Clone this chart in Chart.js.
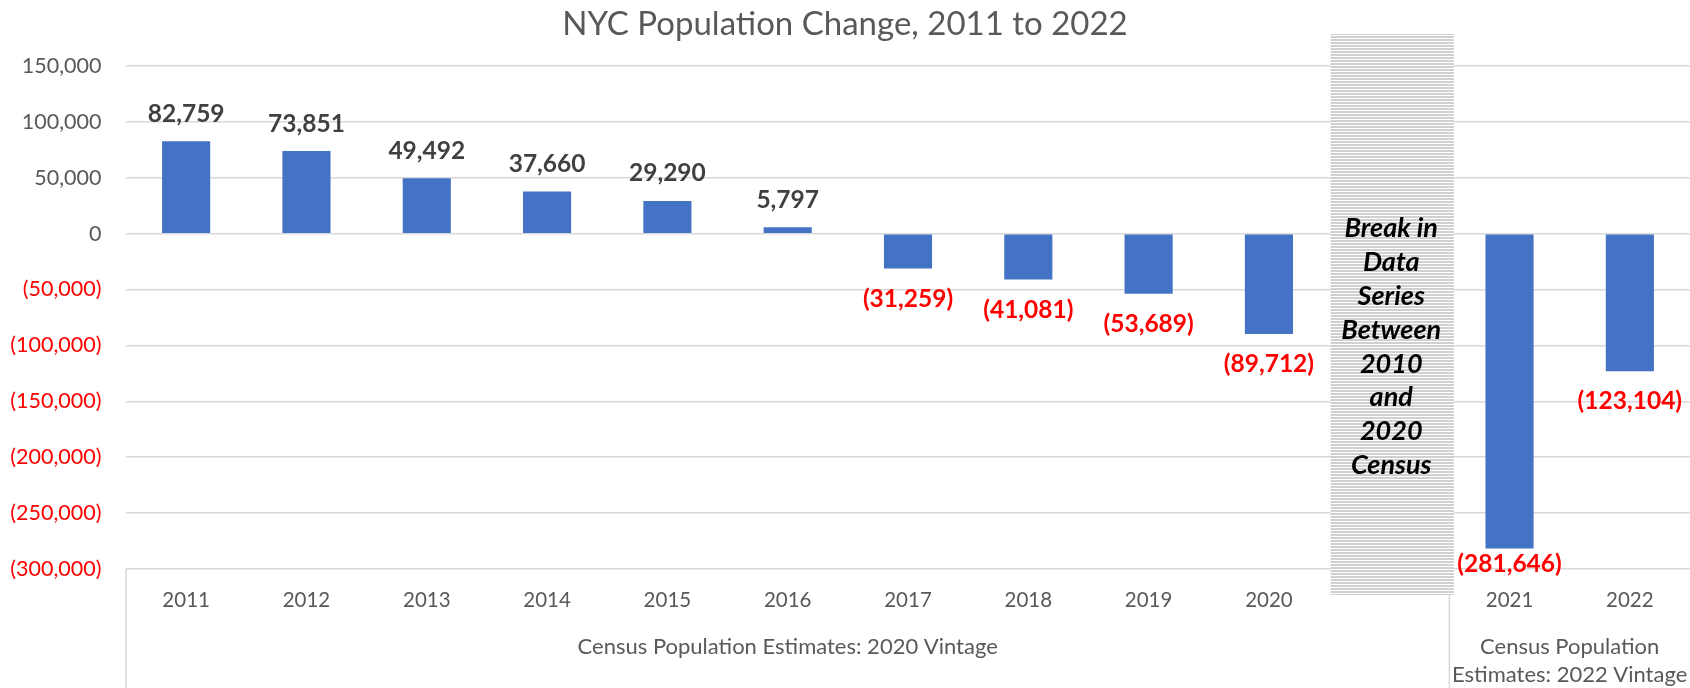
<!DOCTYPE html>
<html>
<head>
<meta charset="utf-8">
<title>NYC Population Change, 2011 to 2022</title>
<script src="https://cdn.jsdelivr.net/npm/chart.js@4"></script>
<style>
  html, body { margin: 0; padding: 0; background: #fff; }
  #wrap { width: 1690px; height: 688px; }
</style>
</head>
<body>
<div id="wrap"><canvas id="pop-chart" width="1690" height="688"></canvas></div>
<script>
const years = ['2011', '2012', '2013', '2014', '2015', '2016', '2017', '2018', '2019', '2020', '', '2021', '2022'];
const popChange = [82759, 73851, 49492, 37660, 29290, 5797, -31259, -41081, -53689, -89712, null, -281646, -123104];
const yMin = -300000;
const yMax = 150000;
const yStep = 50000;

const groupNames = ['Census Population Estimates: 2020 Vintage', ['Census Population', 'Estimates: 2022 Vintage']];
const groupFirst = [0, 11];
const groupLast = [10, 12];

const breakIndex = 10;
const breakText = ['Break in', 'Data', 'Series', 'Between', '2010', 'and', '2020', 'Census'];

const GRAY = '#595959';
const RED = '#FF0000';
const FONT = 'Lato';

function fmt(v) {
	const s = Math.abs(v).toLocaleString('en-US');
	return v < 0 ? '(' + s + ')' : s;
}

function hatchPattern(ctx) {
	const c = document.createElement('canvas');
	c.width = 4;
	c.height = 3;
	const g = c.getContext('2d');
	g.fillStyle = '#ffffff';
	g.fillRect(0, 0, 4, 3);
	g.fillStyle = '#d0d0d0';
	g.fillRect(0, 0, 4, 2);
	return ctx.createPattern(c, 'repeat');
}

const overlay = {
	id: 'overlay',
	afterDatasetsDraw(chart) {
		const { ctx, chartArea } = chart;
		const x = chart.scales.x;
		const y = chart.scales.y;
		const slot = x.getPixelForValue(1) - x.getPixelForValue(0);
		ctx.save();

		// group separators + group labels under the year ticks
		ctx.strokeStyle = '#d9d9d9';
		ctx.lineWidth = 1.5;
		groupFirst.forEach(i => {
			const gx = x.getPixelForValue(i) - slot / 2;
			ctx.beginPath();
			ctx.moveTo(gx, chartArea.bottom);
			ctx.lineTo(gx, chart.height);
			ctx.stroke();
		});
		ctx.fillStyle = GRAY;
		ctx.font = '22px ' + FONT;
		ctx.textAlign = 'center';
		ctx.textBaseline = 'middle';
		groupNames.forEach((name, g) => {
			const cx = (x.getPixelForValue(groupFirst[g]) + x.getPixelForValue(groupLast[g])) / 2;
			[].concat(name).forEach((t, k) => ctx.fillText(t, cx, chartArea.bottom + 78 + k * 28));
		});

		// break in series band
		const bx = x.getPixelForValue(breakIndex);
		ctx.fillStyle = hatchPattern(ctx);
		ctx.fillRect(bx - slot / 2 + 1.5, chartArea.top - 32, slot + 3, chartArea.bottom - chartArea.top + 58);
		ctx.fillStyle = '#000000';
		ctx.font = 'italic bold 27px ' + FONT;
		const top = y.getPixelForValue(0) - 5;
		breakText.forEach((t, k) => ctx.fillText(t, bx + 2, top + k * 33.8));

		// data labels
		ctx.font = 'bold 24.5px ' + FONT;
		ctx.textBaseline = 'alphabetic';
		chart.getDatasetMeta(0).data.forEach((bar, i) => {
			const v = popChange[i];
			if (v === null) return;
			if (v >= 0) {
				ctx.fillStyle = '#404040';
				ctx.fillText(fmt(v), bar.x, bar.y - 19.5);
			} else {
				ctx.fillStyle = RED;
				ctx.fillText(fmt(v), bar.x, Math.min(bar.y + 38, chartArea.bottom + 3));
			}
		});
		ctx.restore();
	}
};

function drawChart() {
	const ctx = document.getElementById('pop-chart');
	return new Chart(ctx, {
		type: 'bar',
		data: {
			labels: years,
			datasets: [{
				data: popChange,
				backgroundColor: '#4472C4',
				barPercentage: 0.4,
				categoryPercentage: 1
			}]
		},
		options: {
			responsive: false,
			devicePixelRatio: 1,
			animation: false,
			layout: { padding: 0 },
			plugins: {
				legend: { display: false },
				tooltip: { enabled: false },
				title: {
					display: true,
					text: 'NYC Population Change, 2011 to 2022',
					color: GRAY,
					font: { family: FONT, size: 33, weight: 'normal', lineHeight: 1.2 },
					padding: { top: 5, bottom: 21.4 }
				}
			},
			scales: {
				x: {
					grid: { display: false, drawTicks: false },
					border: { display: false },
					ticks: {
						color: GRAY,
						font: { family: FONT, size: 20.5 },
						padding: 19,
						maxRotation: 0,
						autoSkip: false
					},
					afterFit: s => { s.height = 119; }
				},
				y: {
					min: yMin,
					max: yMax,
					grid: { color: '#d9d9d9', lineWidth: 1.5, drawTicks: false },
					border: { display: false },
					ticks: {
						stepSize: yStep,
						padding: 24.5,
						color: c => (c.tick && c.tick.value < 0) ? RED : GRAY,
						font: { family: FONT, size: 21.5 },
						callback: v => fmt(v)
					},
					afterFit: s => { s.width = 126; }
				}
			}
		},
		plugins: [overlay]
	});
}

Promise.all([
	document.fonts.load('20px Lato'),
	document.fonts.load('bold 23px Lato'),
	document.fonts.load('italic bold 24px Lato')
]).catch(() => null).then(drawChart);
</script>
</body>
</html>
